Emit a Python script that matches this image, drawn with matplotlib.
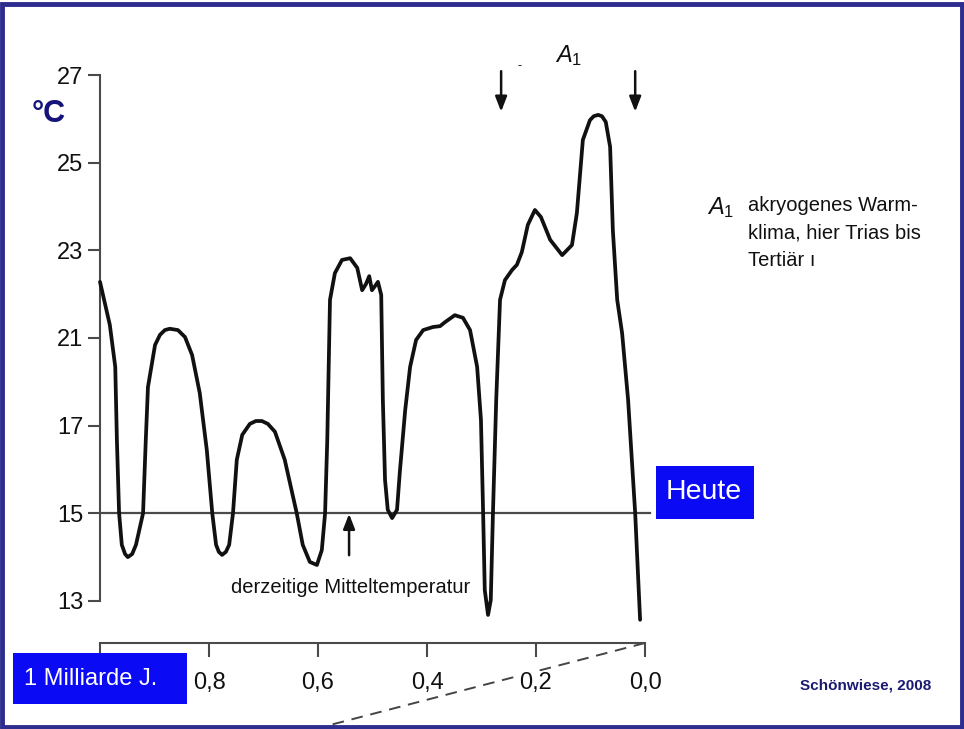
import numpy as np
import matplotlib
matplotlib.use("Agg")
import matplotlib.pyplot as plt
from matplotlib.patches import Rectangle
from matplotlib.lines import Line2D

# age in billion years before present, temperature in deg C
age = [1.000, 0.982, 0.972, 0.969, 0.965, 0.960, 0.954, 0.949, 0.941, 0.934,
       0.921, 0.916, 0.912, 0.899, 0.890, 0.881, 0.872, 0.857, 0.844, 0.831,
       0.817, 0.804, 0.794, 0.787, 0.782, 0.776, 0.769, 0.763, 0.756, 0.749,
       0.739, 0.725, 0.714, 0.703, 0.692, 0.679, 0.661, 0.639, 0.628, 0.615,
       0.602, 0.593, 0.587, 0.583, 0.578, 0.569, 0.556, 0.541, 0.528, 0.519,
       0.512, 0.506, 0.501, 0.495, 0.490, 0.484, 0.481, 0.477, 0.472, 0.464,
       0.455, 0.450, 0.440, 0.431, 0.420, 0.407, 0.389, 0.376, 0.367, 0.349,
       0.334, 0.321, 0.308, 0.301, 0.299, 0.297, 0.294, 0.288, 0.283, 0.279,
       0.273, 0.266, 0.257, 0.244, 0.235, 0.226, 0.215, 0.202, 0.191, 0.174,
       0.152, 0.134, 0.125, 0.114, 0.101, 0.094, 0.086, 0.079, 0.072, 0.064,
       0.059, 0.051, 0.042, 0.031, 0.018, 0.009]
temp = [22.28, 21.30, 19.68, 16.67, 15.01, 14.28, 14.07, 14.00, 14.07, 14.28,
        15.00, 16.67, 18.76, 20.68, 21.07, 21.18, 21.21, 21.18, 21.02, 20.22,
        18.49, 16.44, 15.00, 14.28, 14.12, 14.05, 14.12, 14.28, 15.00, 16.22,
        16.79, 17.08, 17.21, 17.21, 17.08, 16.86, 16.22, 15.00, 14.28, 13.89,
        13.82, 14.16, 15.00, 16.67, 21.87, 22.48, 22.78, 22.82, 22.60, 22.09,
        22.23, 22.41, 22.09, 22.19, 22.28, 21.98, 18.17, 15.76, 15.08, 14.89,
        15.08, 15.92, 17.71, 19.68, 20.91, 21.18, 21.25, 21.27, 21.36, 21.52,
        21.46, 21.18, 19.68, 17.26, 16.06, 15.00, 13.25, 12.68, 13.02, 15.00,
        18.17, 21.87, 22.32, 22.55, 22.67, 22.96, 23.58, 23.92, 23.76, 23.24,
        22.89, 23.12, 23.85, 25.52, 25.97, 26.06, 26.09, 26.06, 25.93, 25.36,
        23.46, 21.87, 21.11, 18.17, 15.00, 12.57]

y_ticks = [13, 15, 17, 21, 23, 25, 27]
x_ticks = [0.8, 0.6, 0.4, 0.2, 0.0]
x_labels = ["0,8", "0,6", "0,4", "0,2", "0,0"]
heute = 15
a1_start, a1_end = 0.264, 0.018


# broken temperature axis: 17..21 squeezed into one tick step
def forward(t):
    t = np.asarray(t, dtype=float)
    return np.where(t < 17, (t - 13) / 2, np.where(t < 21, 2 + (t - 17) / 4, 3 + (t - 21) / 2))


def inverse(p):
    p = np.asarray(p, dtype=float)
    return np.where(p < 2, 13 + 2 * p, np.where(p < 3, 17 + 4 * (p - 2), 21 + 2 * (p - 3)))


plt.rcParams["font.family"] = ["Liberation Sans", "DejaVu Sans"]
plt.rcParams["mathtext.fontset"] = "custom"
plt.rcParams["mathtext.rm"] = "Liberation Sans"
plt.rcParams["mathtext.it"] = "Liberation Sans:italic"

W, H = 964, 729
fig = plt.figure(figsize=(W / 100, H / 100), dpi=100)
ax = fig.add_axes([100 / W, 1 - 643 / H, 545 / W, (643 - 75) / H])
ax.set_yscale("function", functions=(forward, inverse))

axis_col = "#4a4a4a"
ax.plot([1.0, -0.01], [heute, heute], color=axis_col, lw=1.6, clip_on=False, zorder=2)
ax.plot(age, temp, color="#111111", lw=2.7, solid_joinstyle="round",
        solid_capstyle="round", clip_on=False, zorder=3)

ax.set_xlim(1.0, 0.0)
ax.set_ylim(12.04, 27)
ax.set_yticks(y_ticks)
ax.set_yticklabels([str(v) for v in y_ticks])
ax.set_xticks(x_ticks)
ax.set_xticklabels(x_labels)
ax.set_xticks([1.0], minor=True)
ax.yaxis.set_minor_locator(matplotlib.ticker.NullLocator())

for s in ["top", "right"]:
    ax.spines[s].set_visible(False)
ax.spines["left"].set_bounds(13, 27)
for s in ["left", "bottom"]:
    ax.spines[s].set_color(axis_col)
    ax.spines[s].set_linewidth(1.5)
ax.tick_params(axis="y", which="major", direction="out", length=9, width=1.5,
               color=axis_col, labelsize=17, pad=3, labelcolor="#111111")
ax.tick_params(axis="x", which="both", direction="out", length=10, width=1.5,
               color=axis_col, labelsize=17, pad=11, labelcolor="#111111")
ax.patch.set_alpha(0)
for lab in ax.get_xticklabels():
    lab.set_bbox(dict(facecolor="white", edgecolor="none", pad=1))

# arrows and labels of the warm period A1
arrow_kw = dict(arrowstyle="-|>,head_length=0.9,head_width=0.35", color="#111111", lw=1.8)
for a in (a1_start, a1_end):
    ax.annotate("", xy=(a, 26.1), xytext=(a, 27.15), arrowprops=arrow_kw,
                annotation_clip=False)
ax.text(0.14, 27.45, r"$A_1$", fontsize=17,
        ha="center", va="center", color="#111111", clip_on=False)
ax.text(a1_start - 0.033, 27.2, "-", fontsize=9, ha="center", va="center", clip_on=False)

ax.annotate("", xy=(0.543, 15.05), xytext=(0.543, 13.98), arrowprops=arrow_kw,
            annotation_clip=False)
ax.text(0.76, 13.3, "derzeitige Mitteltemperatur", fontsize=14.5, ha="left",
        va="center", color="#111111", clip_on=False)

# dashed time-scale line leaving the axis end (drawn below the axes so labels mask it)
fig.add_artist(Line2D([645 / W, 330 / W], [1 - 643 / H, 1 - 725 / H], transform=fig.transFigure,
                      color="#444444", lw=1.4, dashes=(6, 4), zorder=-1))

# blue labels
fig.text(32 / W, 1 - 114 / H, "°C", fontsize=22, fontweight="bold", color="#14147a",
         ha="left", va="center")
fig.add_artist(Rectangle((656 / W, 1 - 519 / H), 98 / W, 53 / H, transform=fig.transFigure,
                         facecolor="#0a0af5", edgecolor="none"))
fig.text(704 / W, 1 - 492 / H, "Heute", fontsize=20.5, color="white", ha="center", va="center")
fig.add_artist(Rectangle((13 / W, 1 - 704 / H), 174 / W, 51 / H, transform=fig.transFigure,
                         facecolor="#0a0af5", edgecolor="none"))
fig.text(91 / W, 1 - 679 / H, "1 Milliarde J.", fontsize=17, color="white",
         ha="center", va="center")
fig.text(866 / W, 1 - 685 / H, "Schönwiese, 2008", fontsize=11, fontweight="bold",
         color="#1a1a70", ha="center", va="center")

# explanation of A1 on the right
fig.text(707 / W, 1 - 208 / H, r"$A_1$", fontsize=17, color="#111111", ha="left", va="center")
fig.text(748 / W, 1 - 196 / H, "akryogenes Warm-\nklima, hier Trias bis\nTertiär ı",
         fontsize=14.5, color="#111111", ha="left", va="top", linespacing=1.55)

# slide frame
fig.add_artist(Rectangle((2 / W, 2 / H), (W - 4) / W, (H - 6) / H, transform=fig.transFigure,
                         facecolor="none", edgecolor="#2d2d8f", lw=3.5))

fig.savefig("out.png", dpi=100)
